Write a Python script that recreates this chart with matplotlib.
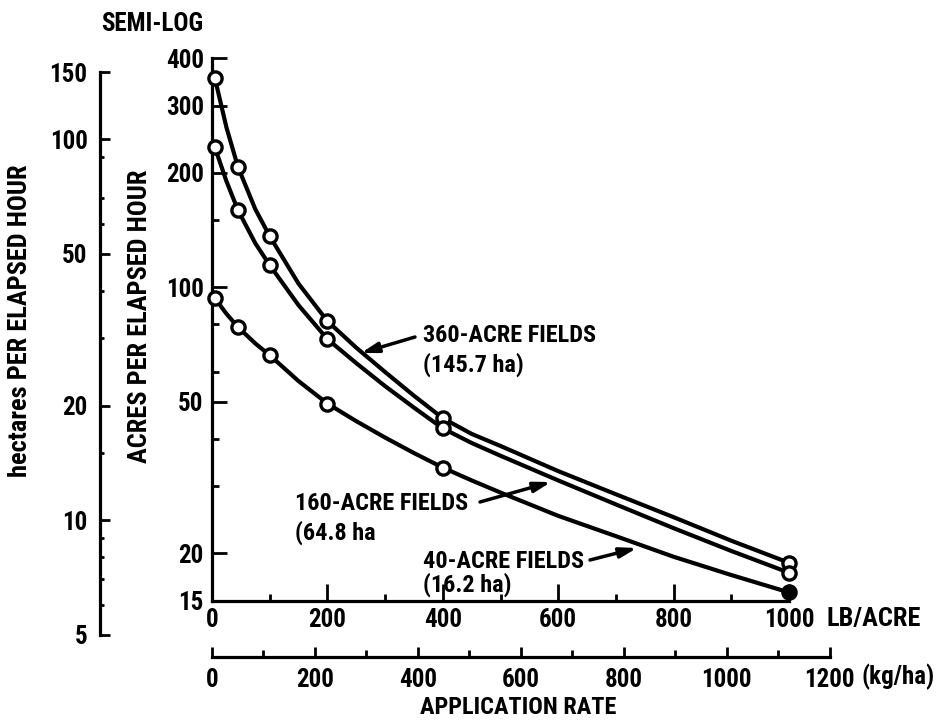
import matplotlib
matplotlib.use("Agg")
import matplotlib.pyplot as plt
from matplotlib.ticker import FixedLocator, FixedFormatter, NullFormatter

# ---------------- data ----------------
rate_pts = [5, 45, 100, 200, 400, 1000]            # lb/acre, plotted markers
acres360_pts = [354, 207, 136.2, 81.5, 45.3, 18.9]
acres160_pts = [233, 159.4, 114.3, 73.1, 42.6, 17.8]
acres40_pts = [93.6, 78.6, 66.3, 49.5, 33.6, 15.8]

rate_curve = [5, 25, 45, 75, 100, 150, 200, 250, 300, 350, 400, 450, 500,
              600, 700, 800, 900, 1000]
acres360_curve = [354, 263, 207, 160.4, 136.2, 102.2, 81.5, 69.4, 59.9, 51.9, 45.3, 41.2, 38.3,
                  32.9, 28.6, 24.9, 21.6, 18.9]
acres160_curve = [233, 189.9, 159.4, 130.5, 114.3, 89.7, 73.1, 63.2, 55.0, 48.3, 42.6, 39.0, 36.1,
                  31.1, 26.9, 23.3, 20.3, 17.8]
acres40_curve = [93.6, 85.2, 78.6, 71.2, 66.3, 56.7, 49.5, 44.5, 40.3, 36.7, 33.6, 31.1, 28.9,
                 25.1, 22.2, 19.6, 17.55, 15.8]

lb_major = [0, 200, 400, 600, 800, 1000]
lb_minor = [100, 300, 500, 700, 900]
kg_major = [0, 200, 400, 600, 800, 1000, 1200]
kg_minor = [100, 300, 500, 700, 900, 1100]
acre_major = [15, 20, 50, 100, 200, 300, 400]
acre_minor = [30, 40, 60, 80, 150]
ha_major = [5, 10, 20, 50, 100, 150]
ha_minor = [6, 7, 8, 9, 15, 30, 40, 60, 70, 90]

KGHA_PER_LBAC = 1.1209

# ---------------- styling ----------------
FONT = ["Roboto Condensed", "DejaVu Sans Condensed", "Liberation Sans Narrow", "DejaVu Sans"]
plt.rcParams["font.family"] = FONT
plt.rcParams["font.stretch"] = "condensed"
plt.rcParams["font.weight"] = "bold"
W, H = 947, 722
fig = plt.figure(figsize=(W / 100, H / 100), dpi=100)
fig.patch.set_facecolor("white")


def fx(x):
    return x / W


def fy(y):
    return 1 - y / H


LW_SPINE = 2.3
TS = 18  # tick label size

# main axes: x 0..1000 lb/acre, y 15..400 acres/h (log)
x0, x1 = 212, 789
y_top, y_bot = 58, 601
ax = fig.add_axes([fx(x0), fy(y_bot), (x1 - x0) / W, (y_bot - y_top) / H])
ax.set_xlim(0, 1000)
ax.set_yscale("log")
ax.set_ylim(15, 400)
for s in ["top", "right"]:
    ax.spines[s].set_visible(False)
for s in ["left", "bottom"]:
    ax.spines[s].set_linewidth(LW_SPINE)
ax.patch.set_alpha(0)

ax.xaxis.set_major_locator(FixedLocator(lb_major))
ax.xaxis.set_minor_locator(FixedLocator(lb_minor))
ax.xaxis.set_major_formatter(FixedFormatter([str(v) for v in lb_major]))
ax.xaxis.set_minor_formatter(NullFormatter())
ax.yaxis.set_major_locator(FixedLocator(acre_major))
ax.yaxis.set_minor_locator(FixedLocator(acre_minor))
ax.yaxis.set_major_formatter(FixedFormatter([str(v) for v in acre_major]))
ax.yaxis.set_minor_formatter(NullFormatter())
ax.tick_params(axis="x", which="major", direction="in", length=12, width=2, pad=5, labelsize=TS)
ax.tick_params(axis="x", which="minor", direction="in", length=5, width=2)
ax.tick_params(axis="y", which="major", direction="in", length=11, width=2, pad=6, labelsize=TS)
ax.tick_params(axis="y", which="minor", direction="in", length=5, width=2)

# curves
for curve in (acres360_curve, acres160_curve, acres40_curve):
    ax.plot(rate_curve, curve, color="black", lw=3.0, solid_capstyle="round",
            solid_joinstyle="round", zorder=3, clip_on=False)
for pts in (acres360_pts, acres160_pts):
    ax.plot(rate_pts, pts, ls="none", marker="o", ms=9.5, mfc="white", mec="black",
            mew=2.4, zorder=4, clip_on=False)
ax.plot(rate_pts[:-1], acres40_pts[:-1], ls="none", marker="o", ms=9.5, mfc="white",
        mec="black", mew=2.4, zorder=4, clip_on=False)
ax.plot(rate_pts[-1:], acres40_pts[-1:], ls="none", marker="o", ms=9.5, mfc="black",
        mec="black", mew=2.4, zorder=4, clip_on=False)

# hectare axis (left)
hx = 100
h_top, h_bot = 72, 635
axh = fig.add_axes([fx(hx), fy(h_bot), 0.002, (h_bot - h_top) / H])
axh.set_yscale("log")
axh.set_ylim(5, 150)
axh.patch.set_alpha(0)
for s in ["top", "right", "bottom"]:
    axh.spines[s].set_visible(False)
axh.spines["left"].set_linewidth(LW_SPINE)
axh.set_xticks([])
axh.yaxis.set_major_locator(FixedLocator(ha_major))
axh.yaxis.set_minor_locator(FixedLocator(ha_minor))
axh.yaxis.set_major_formatter(FixedFormatter([str(v) for v in ha_major]))
axh.yaxis.set_minor_formatter(NullFormatter())
axh.tick_params(axis="y", which="major", direction="in", length=7, width=2, pad=9, labelsize=TS)
axh.tick_params(axis="y", which="minor", direction="in", length=3, width=2)

# kg/ha axis (bottom)
ky = 657
kx1 = x0 + (x1 - x0) * 1200 / (1000 * KGHA_PER_LBAC)
axk = fig.add_axes([fx(x0), fy(ky), (kx1 - x0) / W, 0.002])
axk.set_xlim(0, 1200)
axk.patch.set_alpha(0)
for s in ["top", "right", "left"]:
    axk.spines[s].set_visible(False)
axk.spines["bottom"].set_linewidth(LW_SPINE)
axk.set_yticks([])
axk.xaxis.set_major_locator(FixedLocator(kg_major))
axk.xaxis.set_minor_locator(FixedLocator(kg_minor))
axk.xaxis.set_major_formatter(FixedFormatter([str(v) for v in kg_major]))
axk.xaxis.set_minor_formatter(NullFormatter())
axk.tick_params(axis="x", which="major", direction="in", length=7, width=2, pad=8, labelsize=TS)
axk.tick_params(axis="x", which="minor", direction="in", length=5, width=2)

# ---------------- texts ----------------
def ftext(x, y, s, **kw):
    kw.setdefault("fontsize", 17.5)
    kw.setdefault("fontweight", "bold")
    fig.text(fx(x), fy(y), s, **kw)


ftext(152, 24, "SEMI-LOG", ha="center", va="center", fontsize=18)
ftext(140, 316, "ACRES PER ELAPSED HOUR", ha="center", va="center", rotation=90, fontsize=19)
ftext(20, 321, "hectares PER ELAPSED HOUR", ha="center", va="center", rotation=90, fontsize=19)
ftext(826, 619, "LB/ACRE", ha="left", va="center", fontsize=19)
ftext(861, 677, "(kg/ha)", ha="left", va="center", fontsize=18)
ftext(518, 708, "APPLICATION RATE", ha="center", va="center")

ftext(423, 335, "360-ACRE FIELDS", ha="left", va="center")
ftext(423, 365, "(145.7 ha)", ha="left", va="center")
ftext(468, 503, "160-ACRE FIELDS", ha="right", va="center")
ftext(295, 533, "(64.8 ha", ha="left", va="center")
ftext(423, 561, "40-ACRE FIELDS", ha="left", va="center")
ftext(423, 585, "(16.2 ha)", ha="left", va="center")

arrow = dict(arrowstyle="-|>,head_length=1.0,head_width=0.3", lw=2.5, color="black",
             shrinkA=0, shrinkB=0)
for (tx, ty), (hx_, hy_) in [((415, 337), (361, 353)),
                              ((480, 502), (551, 482)),
                              ((590, 560), (637, 548))]:
    ax.annotate("", xy=(fx(hx_), fy(hy_)), xycoords="figure fraction",
                xytext=(fx(tx), fy(ty)), textcoords="figure fraction",
                arrowprops=arrow, zorder=5)

fig.savefig("out.png", dpi=100, facecolor="white")
